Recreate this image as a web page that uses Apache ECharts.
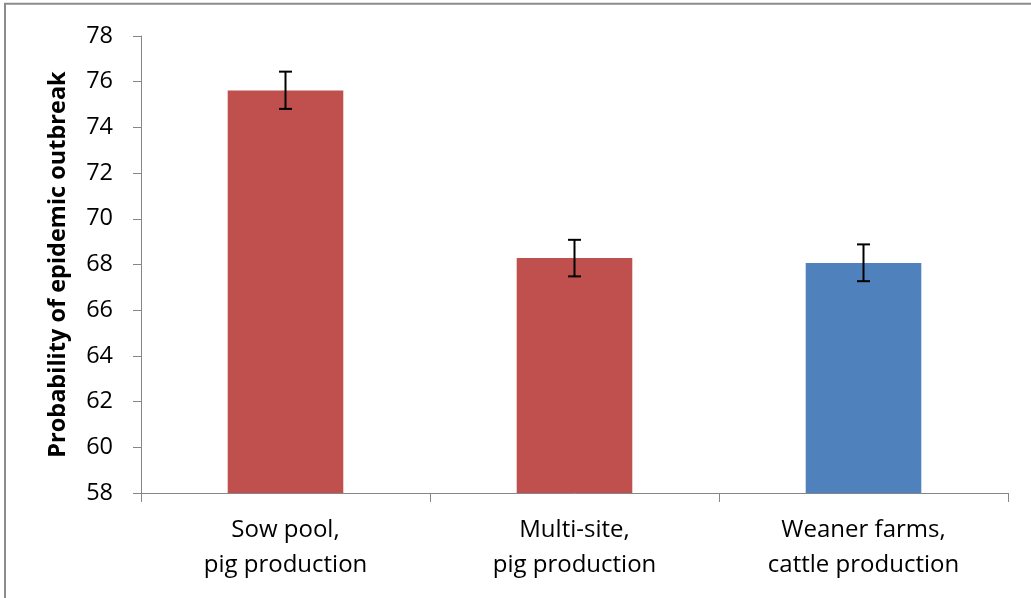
<!DOCTYPE html>
<html>
<head>
<meta charset="utf-8">
<script src="https://cdn.jsdelivr.net/npm/echarts@6/dist/echarts.min.js"></script>
<style>
html,body{margin:0;padding:0;background:#fff;}
#chart{width:1031px;height:598px;}
</style>
</head>
<body>
<div id="chart"></div>
<script>
const categories = ['Sow pool,\npig production', 'Multi-site,\npig production', 'Weaner farms,\ncattle production'];
const values = [75.62, 68.28, 68.07];
const errLow = [74.81, 67.48, 67.27];
const errHigh = [76.44, 69.08, 68.88];
const yTicks = { min: 58, max: 78, interval: 2 };
const yTitle = 'Probability of epidemic outbreak';

const barColors = ['#C0504D', '#C0504D', '#4F81BD'];
const axisColor = '#868686';
const fontFamily = '"Open Sans", sans-serif';

const chart = echarts.init(document.getElementById('chart'), null, { renderer: 'canvas' });

chart.setOption({
  animation: false,
  backgroundColor: '#fff',
  grid: { left: 141, right: 23, top: 36, bottom: 105, containLabel: false },
  xAxis: {
    type: 'category',
    data: categories,
    boundaryGap: true,
    axisLine: { lineStyle: { color: axisColor, width: 1 } },
    axisTick: { show: true, length: 9, alignWithLabel: false, lineStyle: { color: axisColor } },
    axisLabel: { color: '#000', fontSize: 24, fontFamily: fontFamily, lineHeight: 35, margin: 20, interval: 0 }
  },
  yAxis: {
    type: 'value',
    min: yTicks.min,
    max: yTicks.max,
    interval: yTicks.interval,
    name: yTitle,
    nameLocation: 'middle',
    nameGap: 71,
    nameRotate: 90,
    nameTextStyle: { color: '#000', fontSize: 23.5, fontWeight: 'bold', fontFamily: fontFamily },
    axisLine: { show: true, lineStyle: { color: axisColor, width: 1 } },
    axisTick: { show: true, length: 8, inside: false, lineStyle: { color: axisColor } },
    splitLine: { show: false },
    axisLabel: { color: '#000', fontSize: 23.5, fontFamily: fontFamily, margin: 28 }
  },
  series: [
    {
      type: 'bar',
      data: values.map((v, i) => ({ value: v, itemStyle: { color: barColors[i] } })),
      barWidth: '40%'
    },
    {
      type: 'custom',
      data: values.map((v, i) => [i, errLow[i], errHigh[i]]),
      z: 10,
      renderItem: function (params, api) {
        const x = api.value(0);
        const lo = api.coord([x, api.value(1)]);
        const hi = api.coord([x, api.value(2)]);
        const half = 6.5;
        const style = { stroke: '#000', lineWidth: 2 };
        return {
          type: 'group',
          children: [
            { type: 'line', shape: { x1: hi[0], y1: hi[1], x2: lo[0], y2: lo[1] }, style: style },
            { type: 'line', shape: { x1: hi[0] - half, y1: hi[1], x2: hi[0] + half, y2: hi[1] }, style: style },
            { type: 'line', shape: { x1: lo[0] - half, y1: lo[1], x2: lo[0] + half, y2: lo[1] }, style: style }
          ]
        };
      }
    }
  ],
  graphic: [
    {
      type: 'rect',
      silent: true,
      shape: { x: 5, y: 3.7, width: 1100, height: 700 },
      style: { fill: 'none', stroke: '#8c8c8c', lineWidth: 2 }
    }
  ]
});
</script>
</body>
</html>
